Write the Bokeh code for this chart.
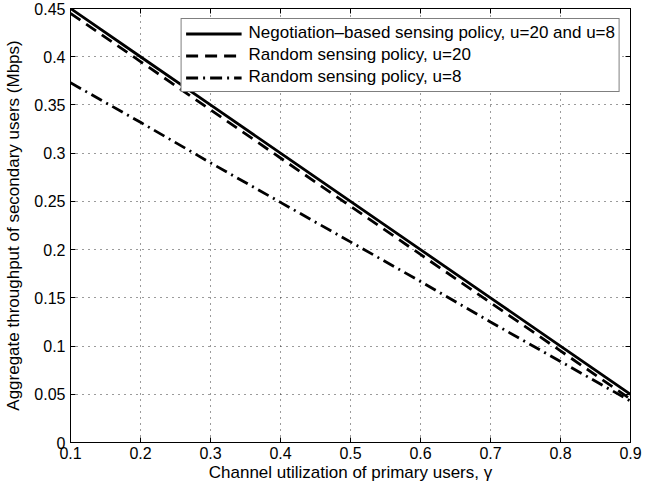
from bokeh.plotting import figure
from bokeh.models import (LinearAxis, FixedTicker, Legend, LegendItem, Range1d,
                          CustomLabelingPolicy)
from bokeh.embed import file_html
from bokeh.resources import INLINE

# Data
gamma = [0.1, 0.2, 0.3, 0.4, 0.5, 0.6, 0.7, 0.8, 0.9]
negotiation = [0.45, 0.40, 0.35, 0.30, 0.25, 0.20, 0.15, 0.10, 0.05]
random_u20 = [0.445, 0.395, 0.345, 0.295, 0.245, 0.195, 0.145, 0.095, 0.045]
random_u8 = [0.373, 0.332, 0.290, 0.249, 0.208, 0.167, 0.125, 0.084, 0.043]

x_ticks = [0.1, 0.2, 0.3, 0.4, 0.5, 0.6, 0.7, 0.8, 0.9]
x_tick_labels = ["0.1", "0.2", "0.3", "0.4", "0.5", "0.6", "0.7", "0.8", "0.9"]
y_ticks = [0, 0.05, 0.1, 0.15, 0.2, 0.25, 0.3, 0.35, 0.4, 0.45]
y_tick_labels = ["0", "0.05", "0.1", "0.15", "0.2", "0.25", "0.3", "0.35", "0.4", "0.45"]

series_labels = [
    "Negotiation\u2013based sensing policy, u=20 and u=8",
    "Random sensing policy, u=20",
    "Random sensing policy, u=8",
]

FONT = "Liberation Sans"

p = figure(width=650, height=484, output_backend="svg", toolbar_location=None,
           x_range=Range1d(0.1, 0.9), y_range=Range1d(0, 0.45),
           min_border_left=70, min_border_right=20, min_border_top=8, min_border_bottom=41)
p.background_fill_color = "white"
p.border_fill_color = "white"
p.outline_line_color = "black"
p.outline_line_width = 1

xt = FixedTicker(ticks=x_ticks)
yt = FixedTicker(ticks=y_ticks)

for ax, tk, ticks, labels in ((p.xaxis[0], xt, x_ticks, x_tick_labels),
                              (p.yaxis[0], yt, y_ticks, y_tick_labels)):
    ax.ticker = tk
    ax.major_label_overrides = {t: l for t, l in zip(ticks, labels)}
    ax.major_tick_in = 5
    ax.major_tick_out = 0
    ax.minor_tick_in = 0
    ax.minor_tick_out = 0
    ax.axis_line_color = "black"
    ax.major_tick_line_color = "black"
    ax.major_label_text_font = FONT
    ax.major_label_text_font_size = "16px"
    ax.major_label_text_color = "black"
    ax.axis_label_text_font = FONT
    ax.axis_label_text_font_size = "17px"
    ax.axis_label_text_font_style = "normal"
    ax.axis_label_text_color = "black"

p.xaxis[0].axis_label = "Channel utilization of primary users, \u03b3"
p.yaxis[0].axis_label = "Aggregate throughput of secondary users (Mbps)"
p.xaxis[0].major_label_standoff = 4
p.xaxis[0].axis_label_standoff = 1
p.yaxis[0].major_label_standoff = 5
p.yaxis[0].axis_label_standoff = 8

for loc, tk in (("right", yt), ("above", xt)):
    a = LinearAxis(ticker=tk, major_tick_in=5, major_tick_out=0, minor_tick_in=0,
                   minor_tick_out=0, major_label_text_font_size="0px",
                   major_label_standoff=0, axis_line_color="black",
                   major_label_policy=CustomLabelingPolicy(code="return []"))
    p.add_layout(a, loc)

for g in (p.xgrid[0], p.ygrid[0]):
    g.grid_line_color = "#222222"
    g.grid_line_alpha = 0.9
    g.grid_line_dash = "1 5"
    g.grid_line_width = 1
p.xgrid[0].ticker = xt
p.ygrid[0].ticker = yt

r1 = p.line(gamma, negotiation, line_color="black", line_width=2.8)
r2 = p.line(gamma, random_u20, line_color="black", line_width=2.8, line_dash="12 7")
r3 = p.line(gamma, random_u8, line_color="black", line_width=2.8, line_dash="12 5 2 5")

legend = Legend(items=[LegendItem(label=series_labels[0], renderers=[r1]),
                       LegendItem(label=series_labels[1], renderers=[r2]),
                       LegendItem(label=series_labels[2], renderers=[r3])],
                location="top_right")
legend.border_line_color = "black"
legend.border_line_width = 1
legend.background_fill_alpha = 1
legend.label_text_font = FONT
legend.label_text_font_size = "17px"
legend.label_text_color = "black"
legend.glyph_width = 56
legend.glyph_height = 19
legend.label_height = 19
legend.spacing = 2
legend.padding = 4
legend.margin = 10
legend.label_standoff = 7
p.add_layout(legend)

open("out.html", "w").write(file_html(p, INLINE))
